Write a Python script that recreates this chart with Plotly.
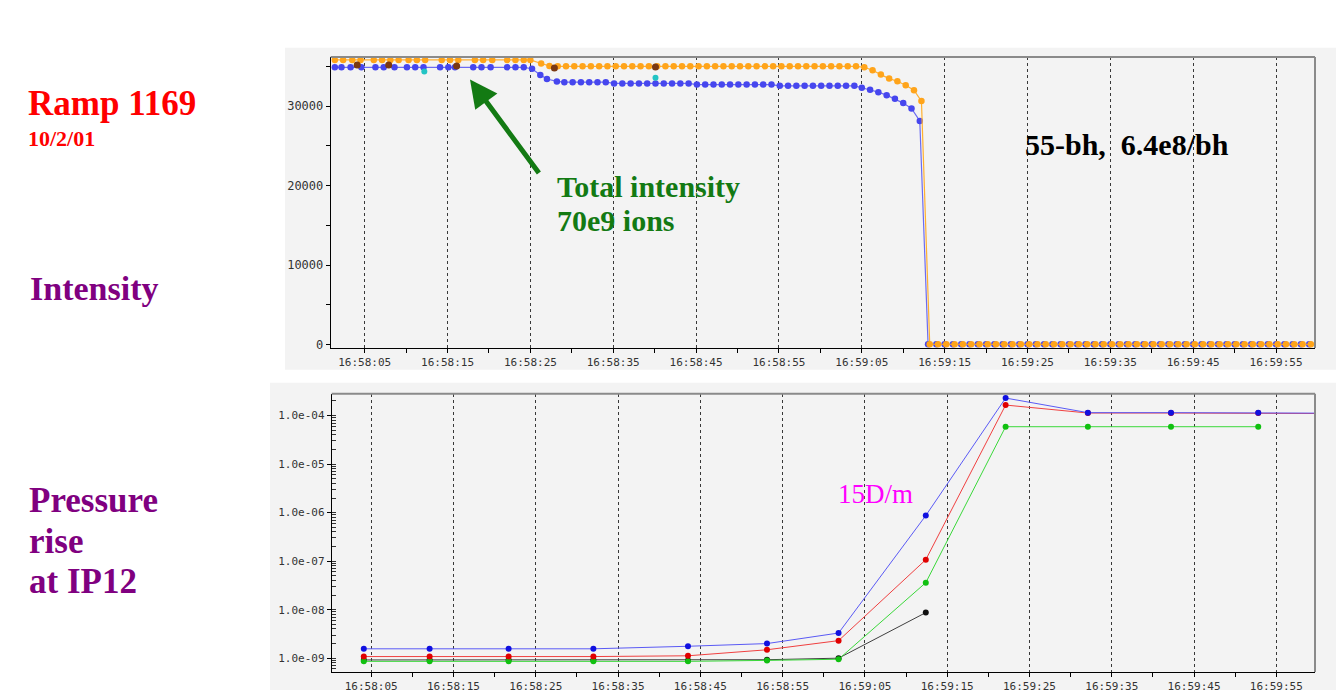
import pandas as pd
import plotly.graph_objects as go

W, H = 1336, 694
BASE = pd.Timestamp("2001-10-02 16:58:00")

# ---- Intensity (seconds after 16:58:00) ----
orange_t = [1.4, 2.4, 3.5, 4.5, 6.1, 7.1, 8.1, 9.1, 10.3, 11.3, 12.3, 14.3, 15.3, 16.3,
            18.3, 19.3, 20.4, 22.2, 23.2, 24.2, 25.0,
            26.3, 27.3, 28.3, 29.3, 30.3, 31.3, 32.3, 33.3, 34.3, 35.3, 36.3, 37.3, 38.3,
            39.3, 40.3, 41.3, 42.3, 43.3, 44.3, 45.3, 46.3, 47.3, 48.3, 49.3, 50.3, 51.3,
            52.3, 53.3, 54.3, 55.3, 56.3, 57.3, 58.3, 59.3, 60.3, 61.3, 62.3, 63.3, 64.3,
            65.3, 66.3, 67.3, 68.3, 69.3, 70.3, 71.3, 72.2,
            73.2, 74.2, 75.2, 76.2, 77.2, 78.2, 79.2, 80.2, 81.2, 82.2, 83.2, 84.2, 85.2,
            86.2, 87.2, 88.2, 89.2, 90.2, 91.2, 92.2, 93.2, 94.2, 95.2, 96.2, 97.2, 98.2,
            99.2, 100.2, 101.2, 102.2, 103.2, 104.2, 105.2, 106.2, 107.2, 108.2, 109.2,
            110.2, 111.2, 112.2, 113.2, 114.2, 115.2, 116.2, 117.2, 118.2, 119.2]
orange_v = [35800, 35800, 35800, 35800, 35800, 35800, 35800, 35800, 35800, 35800, 35800,
            35800, 35800, 35800, 35800, 35800, 35800, 35800, 35800, 35800, 35800,
            35350, 35050, 35000, 35000, 35000, 35000, 35000, 35000, 35000, 35000, 35000,
            35000, 35000, 35000, 35000, 35000, 35000, 35000, 35000, 35000, 35000, 35000,
            35000, 35000, 35000, 35000, 35000, 35000, 35000, 35000, 35000, 35000, 35000,
            35000, 35000, 35000, 35000, 35000, 35000,
            34875, 34500, 33960, 33460, 33125, 32625, 32000, 30625,
            60, 60, 60, 60, 60, 60, 60, 60, 60, 60, 60, 60, 60, 60, 60, 60,
            60, 60, 60, 60, 60, 60, 60, 60, 60, 60, 60, 60, 60, 60, 60, 60,
            60, 60, 60, 60, 60, 60, 60, 60, 60, 60, 60, 60, 60, 60, 60]

blue_t = [1.4, 2.2, 3.3, 4.6, 6.3, 7.3, 8.6, 10.1, 11.1, 12.1, 14.1, 15.1, 15.9, 18.1,
          19.1, 20.2, 22.2, 23.2, 24.2,
          25.2, 26.2, 27.0, 28.2,
          29.1, 30.1, 31.1, 32.1, 33.1, 34.1, 35.1, 36.1, 37.1, 38.1, 39.1, 40.1, 41.1,
          42.1, 43.1, 44.1, 45.1, 46.1, 47.1, 48.1, 49.1, 50.1, 51.1, 52.1, 53.1, 54.1,
          55.1, 56.1, 57.1, 58.1, 59.1, 60.1, 61.1, 62.1, 63.1, 64.1,
          65.0, 66.0, 67.0, 68.0, 69.0, 70.0, 71.0, 72.0,
          73.0, 74.0, 75.0, 76.0, 77.0, 78.0, 79.0, 80.0, 81.0, 82.0, 83.0, 84.0, 85.0,
          86.0, 87.0, 88.0, 89.0, 90.0, 91.0, 92.0, 93.0, 94.0, 95.0, 96.0, 97.0, 98.0,
          99.0, 100.0, 101.0, 102.0, 103.0, 104.0, 105.0, 106.0, 107.0, 108.0, 109.0,
          110.0, 111.0, 112.0, 113.0, 114.0, 115.0, 116.0, 117.0, 118.0, 119.0]
blue_v = [34875, 34875, 34875, 34875, 34875, 34875, 34875, 34875, 34875, 34875, 34875,
          34875, 34875, 34875, 34875, 34875, 34875, 34875, 34875,
          34700, 33900, 33400, 33100,
          33000, 33000, 33000, 33000, 33000, 33000,
          32850, 32850, 32850, 32850, 32850, 32850, 32850, 32850, 32850, 32850,
          32700, 32700, 32700, 32700, 32700, 32700, 32700, 32700, 32700, 32700,
          32550, 32550, 32550, 32550, 32550, 32550, 32550, 32550, 32550, 32550,
          32300, 32050, 31750, 31375, 30925, 30375, 29710, 28125,
          60, 60, 60, 60, 60, 60, 60, 60, 60, 60, 60, 60, 60, 60, 60, 60,
          60, 60, 60, 60, 60, 60, 60, 60, 60, 60, 60, 60, 60, 60, 60, 60,
          60, 60, 60, 60, 60, 60, 60, 60, 60, 60, 60, 60, 60, 60, 60]

brown_t = [4.1, 7.9, 16.1, 27.9, 40.1]
brown_v = [35175, 35175, 35050, 34800, 34925]
cyan_t = [12.2, 40.1]
cyan_v = [34340, 33550]

# ---- Pressure at IP12 ----
press_t = [4.1, 12.1, 21.7, 32.0, 43.5, 53.1, 61.8, 72.4, 82.1, 92.1, 102.2, 112.8, 122.8]
press_blue = [1.56e-9, 1.56e-9, 1.56e-9, 1.56e-9, 1.76e-9, 2.0e-9, 3.3e-9, 8.7e-7,
              2.3e-4, 1.15e-4, 1.15e-4, 1.15e-4, 1.12e-4]
press_red = [1.08e-9, 1.08e-9, 1.08e-9, 1.08e-9, 1.12e-9, 1.49e-9, 2.3e-9, 1.07e-7,
             1.65e-4, 1.13e-4, 1.13e-4, 1.13e-4, 1.1e-4]
green_t = [4.1, 12.1, 21.7, 32.0, 43.5, 53.1, 61.8, 72.4, 82.1, 92.1, 102.2, 112.8]
press_green = [0.86e-9, 0.86e-9, 0.86e-9, 0.86e-9, 0.86e-9, 0.9e-9, 0.95e-9, 3.6e-8,
               5.9e-5, 5.9e-5, 5.9e-5, 5.9e-5]
black_t = [4.1, 12.1, 21.7, 32.0, 43.5, 53.1, 61.8, 72.4]
press_black = [0.92e-9, 0.92e-9, 0.92e-9, 0.92e-9, 0.9e-9, 0.93e-9, 1.0e-9, 8.7e-9]

log_ticks = [1e-9, 1e-8, 1e-7, 1e-6, 1e-5, 1e-4]
log_labels = ["1.0e-09", "1.0e-08", "1.0e-07", "1.0e-06", "1.0e-05", "1.0e-04"]


def at(secs):
    return [BASE + pd.Timedelta(seconds=s) for s in secs]


def px(x):
    return x / W


def py(y):
    return 1 - y / H


fig = go.Figure()

# intensity traces
fig.add_trace(go.Scatter(x=at(blue_t), y=blue_v, mode="lines+markers",
                         line=dict(color="#6b6bf2", width=1.2),
                         marker=dict(color="#4646ee", size=6.5), xaxis="x", yaxis="y"))
fig.add_trace(go.Scatter(x=at(orange_t), y=orange_v, mode="lines+markers",
                         line=dict(color="#ffb030", width=1.2),
                         marker=dict(color="#ffa41a", size=6.5), xaxis="x", yaxis="y"))
fig.add_trace(go.Scatter(x=at(brown_t), y=brown_v, mode="markers",
                         marker=dict(color="#7a3812", size=7), xaxis="x", yaxis="y"))
fig.add_trace(go.Scatter(x=at(cyan_t), y=cyan_v, mode="markers",
                         marker=dict(color="#22c4c4", size=6), xaxis="x", yaxis="y"))

# pressure traces
fig.add_trace(go.Scatter(x=at(black_t), y=press_black, mode="lines+markers",
                         line=dict(color="#404040", width=1),
                         marker=dict(color="#101010", size=6), xaxis="x2", yaxis="y2"))
fig.add_trace(go.Scatter(x=at(green_t), y=press_green, mode="lines+markers",
                         line=dict(color="#3ad83a", width=1),
                         marker=dict(color="#10c010", size=6), xaxis="x2", yaxis="y2"))
fig.add_trace(go.Scatter(x=at(press_t), y=press_red, mode="lines+markers",
                         line=dict(color="#f04040", width=1),
                         marker=dict(color="#e00000", size=6), xaxis="x2", yaxis="y2"))
fig.add_trace(go.Scatter(x=at(press_t), y=press_blue, mode="lines+markers",
                         line=dict(color="#5a5af5", width=1),
                         marker=dict(color="#1010e0", size=6), xaxis="x2", yaxis="y2"))

tick_font = dict(family="DejaVu Sans Mono", size=11, color="#333333")
time_axis = dict(
    type="date", tickformat="%H:%M:%S", dtick=10000,
    tick0="2001-10-02 16:58:05",
    showline=True, linecolor="black", linewidth=1,
    ticks="outside", ticklen=4, tickcolor="black",
    minor=dict(dtick=5000, tick0="2001-10-02 16:58:00", ticks="outside",
               ticklen=4, tickcolor="black", showgrid=False),
    showgrid=True, gridcolor="#383838", griddash="dot", gridwidth=1,
    zeroline=False, tickfont=tick_font, fixedrange=True,
)

fig.update_layout(
    width=W, height=H,
    margin=dict(l=0, r=0, t=0, b=0),
    paper_bgcolor="white",
    plot_bgcolor="#f3f3f3",
    showlegend=False,
    xaxis=dict(time_axis, domain=[px(330.7), px(1315)], anchor="y",
               range=["2001-10-02 16:58:00.9", "2001-10-02 16:59:59.7"]),
    yaxis=dict(domain=[py(350), py(57.3)], anchor="x", range=[-412, 36175],
               tickvals=[0, 10000, 20000, 30000], tickformat="d",
               showline=True, linecolor="black", linewidth=1,
               ticks="outside", ticklen=4, tickcolor="black",
               minor=dict(dtick=5000, tick0=0, ticks="outside", ticklen=4,
                          tickcolor="black", showgrid=False),
               showgrid=False, zeroline=False,
               tickfont=dict(tick_font, size=12)),
    xaxis2=dict(time_axis, domain=[px(331.7), px(1315)], anchor="y2",
                range=["2001-10-02 16:58:00.2", "2001-10-02 16:59:59.7"]),
    yaxis2=dict(type="log", domain=[py(676), py(396)], anchor="x2",
                range=[-9.287, -3.549],
                tickvals=log_ticks, ticktext=log_labels,
                showline=True, linecolor="black", linewidth=1,
                ticks="outside", ticklen=4, tickcolor="black",
                minor=dict(dtick="D1", ticks="inside", ticklen=4, tickcolor="#333333",
                           showgrid=False),
                showgrid=False, zeroline=False, tickfont=tick_font),
)

# gray panels behind both charts and the gray top/right frame edges
shapes = [
    dict(type="rect", xref="paper", yref="paper", x0=px(285), x1=1, y0=py(372), y1=py(48),
         fillcolor="#f3f3f3", line=dict(width=0), layer="below"),
    dict(type="rect", xref="paper", yref="paper", x0=px(270), x1=1, y0=0, y1=py(385),
         fillcolor="#f3f3f3", line=dict(width=0), layer="below"),
]
for xa, ya in (("x", "y"), ("x2", "y2")):
    shapes.append(dict(type="line", xref=f"{xa} domain", yref=f"{ya} domain",
                       x0=0, x1=1, y0=1, y1=1, line=dict(color="#8a8a8a", width=2)))
    shapes.append(dict(type="line", xref=f"{xa} domain", yref=f"{ya} domain",
                       x0=1, x1=1, y0=0, y1=1, line=dict(color="#8a8a8a", width=2)))
fig.update_layout(shapes=shapes)

serif = "Liberation Serif, Times New Roman, serif"


def label(text, x, y, size, color, bold=True):
    return dict(text=f"<b>{text}</b>" if bold else text, x=px(x), y=py(y),
                xref="paper", yref="paper", xanchor="left", yanchor="middle",
                showarrow=False, font=dict(family=serif, size=size, color=color))


annotations = [
    label("Ramp 1169", 26, 104, 35, "#ff0000"),
    label("10/2/01", 26, 139, 22, "#ff0000"),
    label("Intensity", 28, 290, 34, "#800080"),
    label("Pressure", 27, 503, 35, "#800080"),
    label("rise", 27, 545, 35, "#800080"),
    label("at IP12", 27, 585, 35, "#800080"),
    label("55-bh,\u00a0\u00a06.4e8/bh", 1023, 145, 30, "#000000"),
    label("Total intensity", 555, 188, 30, "#137a13"),
    label("70e9 ions", 555, 222, 30, "#137a13"),
    label("15D/m", 836, 497, 27, "#ff00ff", bold=False),
    dict(text="", x=px(470), y=py(80), xref="paper", yref="paper",
         ax=70, ay=95, showarrow=True, arrowhead=2, arrowsize=1.1,
         arrowwidth=5, arrowcolor="#137a13"),
]
fig.update_layout(annotations=annotations)

fig.write_html("out.html")
